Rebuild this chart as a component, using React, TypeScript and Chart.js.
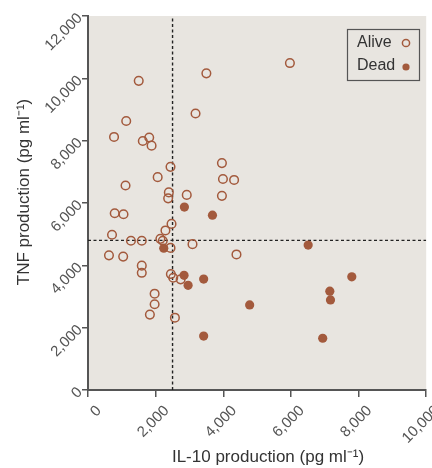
import React, { useEffect, useRef } from "react";
import { Chart, registerables } from "chart.js";

Chart.register(...registerables);

// ---- Data ----
const aliveX = [1500, 3500, 3180, 1130, 770, 1620, 1810, 1880, 2440, 3960, 3990, 4320, 2060, 1110, 2390, 2370, 2920, 3960, 5970, 790, 1050, 2470, 2290, 710, 1270, 1590, 2140, 2210, 2440, 3090, 620, 1040, 4390, 1590, 1590, 2450, 2520, 2740, 1970, 1970, 1830, 2570];
const aliveY = [9920, 10160, 8870, 8630, 8120, 7990, 8100, 7840, 7160, 7280, 6770, 6740, 6830, 6560, 6340, 6150, 6260, 6230, 10490, 5670, 5640, 5330, 5120, 4980, 4790, 4790, 4850, 4790, 4560, 4680, 4320, 4280, 4350, 3990, 3760, 3720, 3600, 3550, 3090, 2750, 2420, 2320];
const deadX = [2850, 3680, 2240, 2840, 3420, 2960, 3420, 4780, 6510, 7800, 7150, 7170, 6940];
const deadY = [5870, 5610, 4550, 3680, 3560, 3360, 1730, 2730, 4650, 3630, 3170, 2890, 1660];
const xTicks = [0, 2000, 4000, 6000, 8000, 10000];
const yTicks = [0, 2000, 4000, 6000, 8000, 10000, 12000];
const cutoffX = 2500;
const cutoffY = 4800;
const seriesLabels = ["Alive", "Dead"];
const xTitle = "IL-10 production (pg ml\u207B\u00B9)";
const yTitle = "TNF production (pg ml\u207B\u00B9)";

const MARK = "#a35a3d";
const BG = "#e8e5e0";
const AXIS = "#555555";
const FONT = "'Liberation Sans', Arial, sans-serif";

const bgPlugin = {
  id: "bgPlugin",
  beforeDraw(chart: any) {
    const { ctx, chartArea } = chart;
    ctx.save();
    ctx.fillStyle = BG;
    ctx.fillRect(chartArea.left, chartArea.top, chartArea.right - chartArea.left, chartArea.bottom - chartArea.top);
    ctx.restore();
  },
};

const overlayPlugin = {
  id: "overlayPlugin",
  afterDraw(chart: any) {
    const { ctx } = chart;
    ctx.save();
    // Axis titles
    ctx.fillStyle = "#333";
    ctx.font = `17px ${FONT}`;
    ctx.textAlign = "center";
    ctx.textBaseline = "middle";
    ctx.fillText(xTitle, 268, 457);
    ctx.save();
    ctx.translate(24, 192);
    ctx.rotate(-Math.PI / 2);
    ctx.fillText(yTitle, 0, 0);
    ctx.restore();

    // Legend
    const bx = 347, by = 29, bw = 72, bh = 51;
    ctx.fillStyle = BG;
    ctx.fillRect(bx, by, bw, bh);
    ctx.strokeStyle = AXIS;
    ctx.lineWidth = 1.2;
    ctx.strokeRect(bx + 0.5, by + 0.5, bw, bh);
    ctx.font = `16px ${FONT}`;
    ctx.textAlign = "left";
    ctx.textBaseline = "middle";
    const datasets = chart.data.datasets.filter((d: any) => seriesLabels.includes(d.label));
    datasets.forEach((d: any, i: number) => {
      const cy = 43 + i * 23;
      ctx.fillStyle = "#333";
      ctx.fillText(d.label, 357, cy);
      ctx.beginPath();
      ctx.arc(406, cy + (i === 1 ? 1 : 0), 3.6, 0, Math.PI * 2);
      if (d.pointBackgroundColor === "transparent") {
        ctx.strokeStyle = MARK;
        ctx.lineWidth = 1.5;
        ctx.stroke();
      } else {
        ctx.fillStyle = MARK;
        ctx.fill();
      }
    });
    ctx.restore();
  },
};

export default function App() {
  const ref = useRef<HTMLCanvasElement | null>(null);

  useEffect(() => {
    if (!ref.current) return;
    const chart = new Chart(ref.current, {
      type: "scatter",
      data: {
        datasets: [
          {
            label: seriesLabels[0],
            data: aliveX.map((x, i) => ({ x, y: aliveY[i] })),
            pointRadius: 4.3,
            pointBorderWidth: 1.5,
            pointBorderColor: MARK,
            pointBackgroundColor: "transparent",
            order: 1,
          },
          {
            label: seriesLabels[1],
            data: deadX.map((x, i) => ({ x, y: deadY[i] })),
            pointRadius: 4.6,
            pointBorderWidth: 0,
            pointBorderColor: MARK,
            pointBackgroundColor: MARK,
            order: 1,
          },
          {
            type: "line",
            label: "cutX",
            data: [
              { x: cutoffX, y: yTicks[0] },
              { x: cutoffX, y: yTicks[yTicks.length - 1] },
            ],
            borderColor: "#222",
            borderWidth: 1.4,
            borderDash: [3, 2.5],
            pointRadius: 0,
            order: 2,
          } as any,
          {
            type: "line",
            label: "cutY",
            data: [
              { x: xTicks[0], y: cutoffY },
              { x: xTicks[xTicks.length - 1], y: cutoffY },
            ],
            borderColor: "#222",
            borderWidth: 1.4,
            borderDash: [3, 2.5],
            pointRadius: 0,
            order: 2,
          } as any,
        ],
      },
      options: {
        animation: false,
        responsive: false,
        layout: { padding: { top: 16, right: 4, left: 0, bottom: 0 } },
        plugins: { legend: { display: false }, tooltip: { enabled: false } },
        scales: {
          x: {
            type: "linear",
            min: xTicks[0],
            max: xTicks[xTicks.length - 1],
            afterBuildTicks: (s: any) => {
              s.ticks = xTicks.map((v) => ({ value: v }));
            },
            ticks: {
              minRotation: 45,
              maxRotation: 45,
              padding: 5,
              labelOffset: 11,
              color: AXIS,
              font: { family: FONT, size: 15 },
              callback: (v: any) => Number(v).toLocaleString("en-US"),
            },
            grid: { drawOnChartArea: false, drawTicks: true, tickLength: 7, color: AXIS, lineWidth: 1.5 },
            border: { display: true, color: AXIS, width: 2 },
            afterFit: (s: any) => {
              s.height = 78;
              s.paddingLeft = 0;
              s.paddingRight = 0;
            },
          },
          y: {
            type: "linear",
            min: yTicks[0],
            max: yTicks[yTicks.length - 1],
            afterBuildTicks: (s: any) => {
              s.ticks = yTicks.map((v) => ({ value: v }));
            },
            ticks: {
              minRotation: 45,
              maxRotation: 45,
              padding: 2,
              color: AXIS,
              font: { family: FONT, size: 15 },
              callback: (v: any) => Number(v).toLocaleString("en-US"),
            },
            grid: { drawOnChartArea: false, drawTicks: true, tickLength: 6, color: AXIS, lineWidth: 1.5 },
            border: { display: true, color: AXIS, width: 2 },
            afterFit: (s: any) => {
              s.width = 88;
              s.paddingTop = 0;
              s.paddingBottom = 0;
            },
          },
        },
      },
      plugins: [bgPlugin, overlayPlugin],
    } as any);
    return () => chart.destroy();
  }, []);

  return (
    <div style={{ position: "absolute", left: 0, top: 0, width: 432, height: 468, background: "#fff" }}>
      <canvas ref={ref} width={432} height={468} style={{ display: "block" }} />
    </div>
  );
}
